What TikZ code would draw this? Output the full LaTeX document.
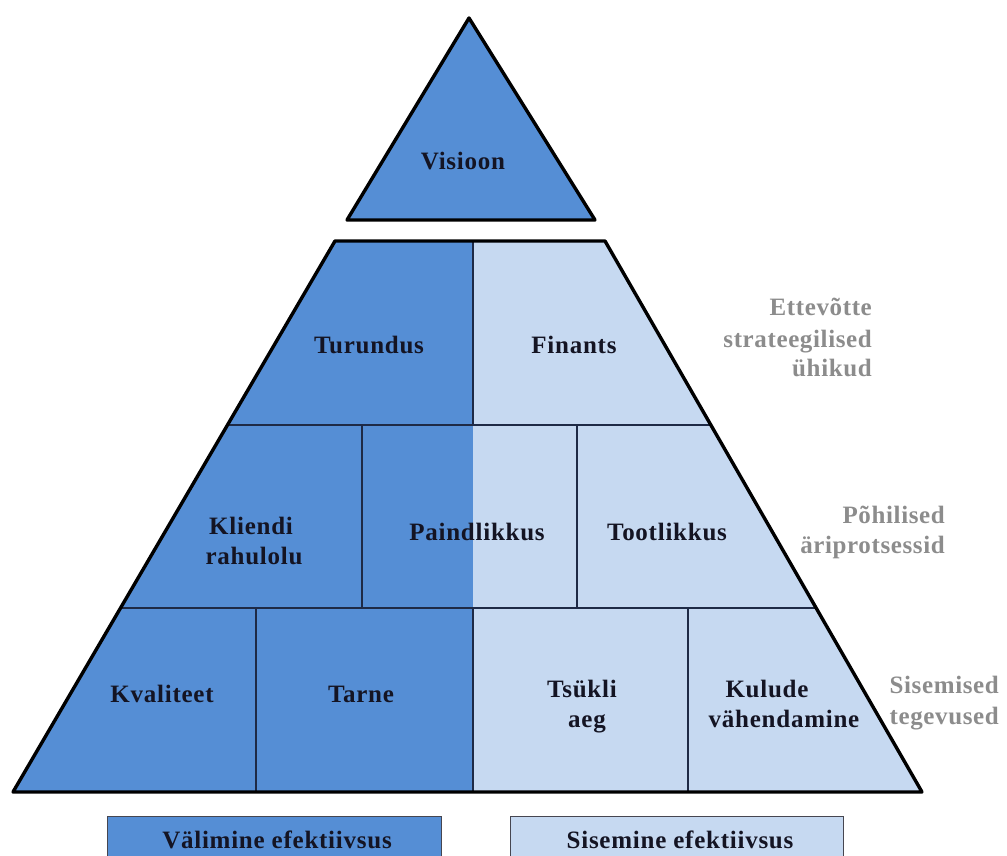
\documentclass[tikz,border=0pt]{standalone}
\usepackage{fontspec}
\setmainfont{Liberation Serif}
\newfontfamily\lblfont[LetterSpace=3]{Liberation Serif}
\newfontfamily\sidefont[LetterSpace=2.5]{Liberation Serif}
\definecolor{darkb}{RGB}{85,142,213}
\definecolor{lightb}{RGB}{198,217,241}
\definecolor{innerc}{RGB}{30,42,70}
\definecolor{txt}{RGB}{20,20,35}
\definecolor{graytxt}{RGB}{140,140,140}
\definecolor{legc}{RGB}{70,70,80}
\begin{document}
\begin{tikzpicture}[x=1pt,y=-1pt,
  outer/.style={draw=black,line width=3.4pt,line join=round},
  inner/.style={draw=innerc,line width=1.6pt},
  lbl/.style={font=\lblfont\fontsize{25}{30}\selectfont\bfseries,text=txt,inner sep=0pt,anchor=base},
  side/.style={font=\sidefont\fontsize{25}{30}\selectfont\bfseries,text=graytxt,inner sep=0pt,anchor=base east},
  legendbox/.style={draw=legc,line width=1pt}]
\useasboundingbox (0,0) rectangle (1007,856);
\begin{scope}
\clip (0,0) rectangle (1007,856);
% top triangle
\coordinate (ap) at (469,18);
\coordinate (vl) at (347,220);
\coordinate (vr) at (595,220);
\fill[darkb] (ap) -- (vl) -- (vr) -- cycle;
\draw[outer] (ap) -- (vl) -- (vr) -- cycle;
% trapezoid
\coordinate (tl) at (335,241);
\coordinate (tr) at (605,241);
\coordinate (br) at (922,792);
\coordinate (bl) at (13,792);
\begin{scope}
\clip (tl) -- (tr) -- (br) -- (bl) -- cycle;
\fill[darkb] (0,230) rectangle (473,800);
\fill[lightb] (473,230) rectangle (1007,800);
\draw[inner] (0,425) -- (1007,425);
\draw[inner] (0,608) -- (1007,608);
\draw[inner] (473,241) -- (473,425);
\draw[inner] (362,425) -- (362,608);
\draw[inner] (577,425) -- (577,608);
\draw[inner] (256,608) -- (256,792);
\draw[inner] (473,608) -- (473,792);
\draw[inner] (688,608) -- (688,792);
\end{scope}
\draw[outer] (tl) -- (tr) -- (br) -- (bl) -- cycle;
% legend boxes
\draw[legendbox,fill=darkb] (107,816) rectangle (441,880);
\draw[legendbox,fill=lightb] (510,816) rectangle (843,880);
\end{scope}
% labels
\node[lbl] (vis) at (463,170) {Visioon};
\node[lbl] (tur) at (369,353) {Turundus};
\node[lbl] (fin) at (574,353) {Finants};
\node[lbl] (kl1) at (251,534) {Kliendi};
\node[lbl] (kl2) at (254,564) {rahulolu};
\node[lbl] (pai) at (477,540) {Paindlikkus};
\node[lbl] (too) at (667,540) {Tootlikkus};
\node[lbl] (kva) at (162,702) {Kvaliteet};
\node[lbl] (tar) at (361,702) {Tarne};
\node[lbl] (ts1) at (582,697) {Tsükli};
\node[lbl] (ts2) at (587,727) {aeg};
\node[lbl] (ku1) at (767,697) {Kulude};
\node[lbl] (ku2) at (784,727) {vähendamine};
\node[lbl] (leg1) at (277,848) {Välimine efektiivsus};
\node[lbl] (leg2) at (680,848) {Sisemine efektiivsus};
% side labels
\node[side] (s1a) at (872,315) {Ettevõtte};
\node[side] (s1b) at (872,347) {strateegilised};
\node[side] (s1c) at (872,376) {ühikud};
\node[side] (s2a) at (945,523) {Põhilised};
\node[side] (s2b) at (945,553) {äriprotsessid};
\node[side] (s3a) at (999,693) {Sisemised};
\node[side] (s3b) at (999,724) {tegevused};
\end{tikzpicture}
\end{document}
